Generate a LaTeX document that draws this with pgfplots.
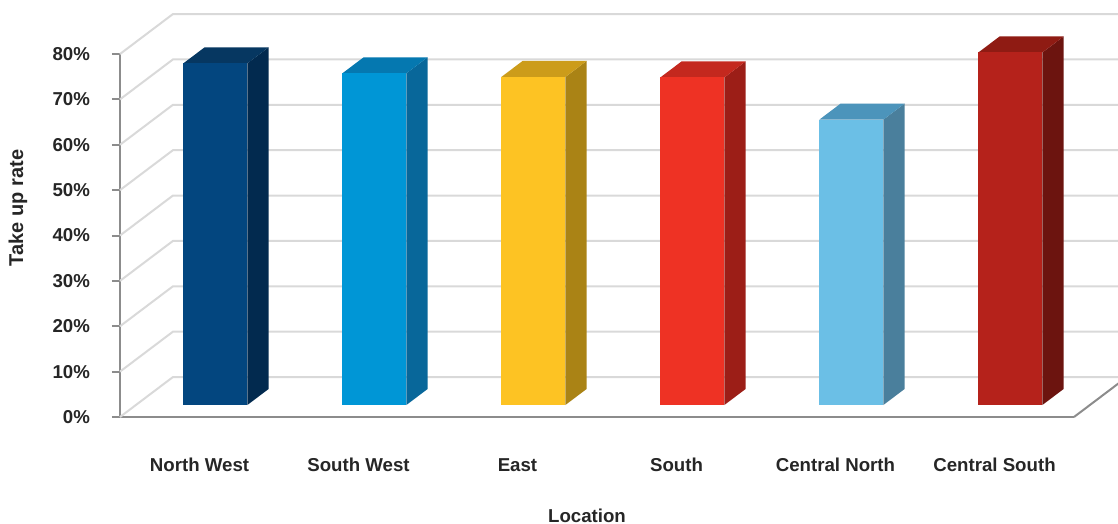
\documentclass[border=0pt]{standalone}
\usepackage{pgfplots}
\usepackage{pgfplotstable}
\pgfplotsset{compat=1.18}
\usepackage{fontspec}
\setmainfont{Liberation Sans}

\definecolor{gridgray}{HTML}{D9D9D9}
\definecolor{axisgray}{HTML}{8C8C8C}
% front / top / side shades of each bar
\definecolor{front0}{HTML}{03467F}\definecolor{top0}{HTML}{063761}\definecolor{side0}{HTML}{022A4F}
\definecolor{front1}{HTML}{0096D6}\definecolor{top1}{HTML}{0578B0}\definecolor{side1}{HTML}{08679A}
\definecolor{front2}{HTML}{FDC323}\definecolor{top2}{HTML}{CC9C1A}\definecolor{side2}{HTML}{AA8315}
\definecolor{front3}{HTML}{EE3224}\definecolor{top3}{HTML}{C4281E}\definecolor{side3}{HTML}{9C1E17}
\definecolor{front4}{HTML}{6BBFE6}\definecolor{top4}{HTML}{4C94BB}\definecolor{side4}{HTML}{4A7F9C}
\definecolor{front5}{HTML}{B5221B}\definecolor{top5}{HTML}{8F1B13}\definecolor{side5}{HTML}{6C140F}

\pgfplotstableread{
idx rate
0   75.3
1   73.1
2   72.3
3   72.2
4   62.9
5   77.7
}\ratetable

% copy each rate into \rate<i>
\foreach \i in {0,...,5}{%
  \pgfplotstablegetelem{\i}{rate}\of\ratetable
  \expandafter\xdef\csname rate\i\endcsname{\pgfplotsretval}%
}
\newcommand\rate[1]{\csname rate#1\endcsname}

% depth of the walls and bars in axis units
\def\dwx{0.3333}\def\dwy{8.815}   % wall depth
\def\fx{0.1}\def\fy{2.645}        % front plane of the bars
\def\bx{0.1333}\def\by{3.526}     % bar depth
\def\hw{0.2013}                   % half bar width

\newcommand\lblfont{\fontsize{14}{16}\selectfont\bfseries}

\begin{document}
\begin{tikzpicture}
\path[use as bounding box] (0pt,0pt) rectangle (838.5pt,-393pt);
\begin{axis}[
  at={(90pt,-312.75pt)}, anchor=south west,
  scale only axis, width=715.5pt, height=272.25pt,
  xmin=-0.5, xmax=5.5, ymin=0, ymax=80,
  clip=false,
  axis x line*=bottom, axis y line*=left,
  axis line style={axisgray, line width=1.5pt, -},
  tick align=outside,
  xtick={0,...,5},
  xticklabels={North West, South West, East, South, Central North, Central South},
  xtick style={draw=none},
  minor xtick={-0.5,0.5,...,5.5},
  minor tick length=7.5pt,
  major tick length=6pt,
  ytick={0,10,...,80},
  ytick style={axisgray, line width=1.5pt},
  minor tick style={axisgray, line width=1.5pt},
  /pgf/number format/assume math mode=true,
  yticklabel={\pgfmathprintnumber{\tick}\%},
  ticklabel style={font=\lblfont, text=black!85},
  xticklabel style={anchor=base, yshift=-35pt},
  yticklabel style={anchor=east, xshift=-13pt},
]
% left wall and back wall gridlines
\pgfplotsinvokeforeach{10,20,...,80}{
  \draw[gridgray, line width=1.5pt]
    (axis cs:-0.5,#1) -- (axis cs:{-0.5+\dwx},{#1+\dwy}) -- (axis cs:5.78,{#1+\dwy});
}
% floor
\draw[gridgray, line width=1.5pt]
  (axis cs:-0.5,0) -- (axis cs:{-0.5+\dwx},\dwy) -- (axis cs:5.78,\dwy);
\draw[axisgray, line width=1.5pt]
  (axis cs:5.5,0) -- (axis cs:{5.5+\dwx},\dwy);
% bars: side, top, front
\pgfplotsinvokeforeach{0,...,5}{
  \fill[side#1]
    (axis cs:{#1+\fx+\hw},\fy) -- (axis cs:{#1+\fx+\hw},{\fy+\rate{#1}})
    -- (axis cs:{#1+\fx+\hw+\bx},{\fy+\by+\rate{#1}}) -- (axis cs:{#1+\fx+\hw+\bx},{\fy+\by}) -- cycle;
  \fill[top#1]
    (axis cs:{#1+\fx-\hw},{\fy+\rate{#1}}) -- (axis cs:{#1+\fx+\hw},{\fy+\rate{#1}})
    -- (axis cs:{#1+\fx+\hw+\bx},{\fy+\by+\rate{#1}}) -- (axis cs:{#1+\fx-\hw+\bx},{\fy+\by+\rate{#1}}) -- cycle;
  \fill[front#1]
    (axis cs:{#1+\fx-\hw},\fy) rectangle (axis cs:{#1+\fx+\hw},{\fy+\rate{#1}});
}
\end{axis}
\node[rotate=90, font=\fontsize{15}{17}\selectfont\bfseries, text=black!85] at (13.5pt,-156pt) {Take up rate};
\node[anchor=base, font=\lblfont, text=black!85] at (440.25pt,-391.5pt) {Location};
\end{tikzpicture}
\end{document}
